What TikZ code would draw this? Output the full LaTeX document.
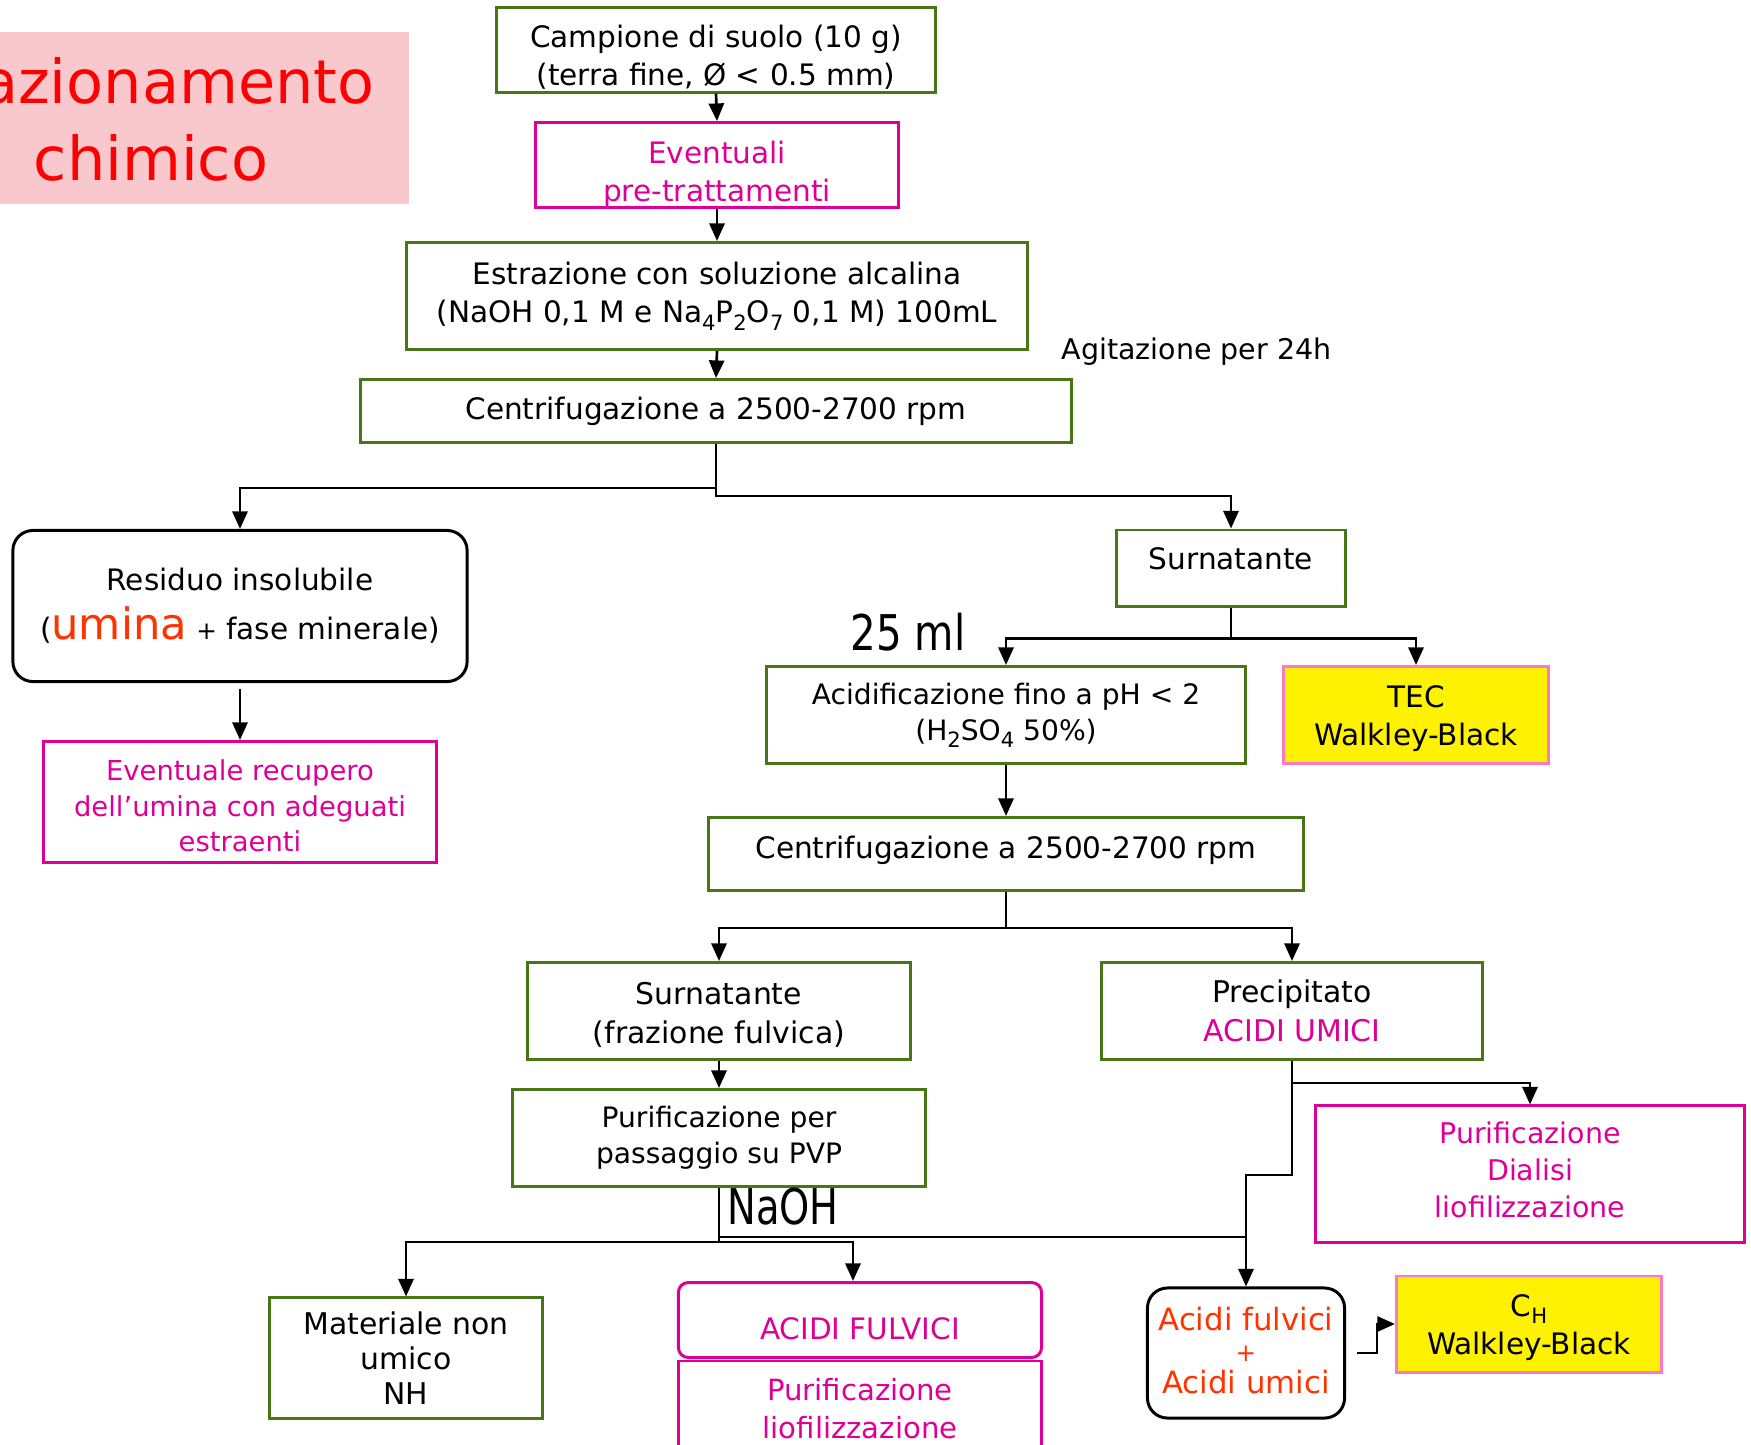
\documentclass[tikz,border=0pt]{standalone}
\usepackage{fontspec}
\usepackage{graphicx}
\setmainfont{DejaVu Sans}
\usetikzlibrary{arrows.meta}
\definecolor{grn}{RGB}{72,118,22}
\definecolor{mag}{RGB}{222,0,150}
\definecolor{pnk}{RGB}{255,120,200}
\definecolor{ored}{RGB}{255,51,0}
\definecolor{ttlbg}{RGB}{248,200,205}
\newcommand\sbs[1]{\raisebox{-0.45ex}{\fontsize{6}{6}\selectfont #1}}
\newcommand\sh[2]{\raisebox{#1}[\height][\depth]{\begin{tabular}{@{}c@{}}#2\end{tabular}}}
\tikzset{
  base/.style={align=center, inner sep=0pt, font=\fontsize{8.4}{10.9}\selectfont},
  gbox/.style={base, draw=grn, line width=0.85pt},
  mbox/.style={base, draw=mag, text=mag, line width=0.85pt},
  ybox/.style={base, draw=pnk, fill=yellow, line width=0.85pt},
  kbox/.style={base, draw=black, line width=0.85pt, rounded corners=0.2cm},
  arr/.style={-{Triangle[length=5pt,width=4.3pt]}, line width=0.75pt},
  ln/.style={line width=0.75pt},
  big/.style={inner sep=0pt, font=\fontsize{14}{16}\selectfont}
}
\begin{document}
\begin{tikzpicture}[x=0.01cm,y=-0.01cm]
\useasboundingbox (0,0) rectangle (1751,1444);
\clip (0,0) rectangle (1751,1444);
\fill[white] (0,0) rectangle (1751,1444);

% title
\fill[ttlbg] (0,32) rectangle (409,204);
\node (t1) [anchor=base east, text=red, inner sep=0pt, font=\fontsize{17.2}{20}\selectfont] at (375,103) {azionamento};
\node (t2) [anchor=base, text=red, inner sep=0pt, font=\fontsize{17.2}{20}\selectfont] at (151,180) {chimico};

% nodes
\node (camp) [gbox, minimum width=4.39cm, minimum height=0.84cm] at (716,50)
  {\sh{-0.09cm}{Campione di suolo (10 g)\\(terra fine, Ø < 0.5 mm)}};
\node (evt) [mbox, minimum width=3.63cm, minimum height=0.85cm] at (717,165)
  {\sh{-0.1cm}{Eventuali\\pre-trattamenti}};
\node (estr) [gbox, minimum width=6.21cm, minimum height=1.07cm] at (717,296)
  {Estrazione con soluzione alcalina\\(NaOH 0,1 M e Na\sbs{4}P\sbs{2}O\sbs{7} 0,1 M) 100mL};
\node (agit) [base, anchor=west, font=\fontsize{8.1}{10}\selectfont] at (1061,352) {Agitazione per 24h};
\node (cen1) [gbox, minimum width=7.11cm, minimum height=0.63cm] at (716,411)
  {Centrifugazione a 2500-2700 rpm};

\node (res) [kbox, minimum width=4.54cm, minimum height=1.51cm] at (240,606)
  {Residuo insolubile\\[3pt](\textcolor{ored}{\fontsize{12.3}{12}\selectfont umina} {\fontsize{7}{7}\selectfont +} fase minerale)};
\node (rec) [mbox, minimum width=3.93cm, minimum height=1.21cm, font=\fontsize{7.8}{10}\selectfont] at (240,802)
  {\sh{-0.07cm}{Eventuale recupero\\dell’umina con adeguati\\estraenti}};

\node (surn1) [gbox, minimum width=2.28cm, minimum height=0.76cm] at (1231,568)
  {\sh{0.065cm}{Surnatante}};
\node (ml) [big] at (908,632) {\scalebox{0.82}[1]{25 ml}};
\node (acid) [gbox, minimum width=4.79cm, minimum height=0.97cm, font=\fontsize{8}{10.3}\selectfont] at (1006,715)
  {Acidificazione fino a pH < 2\\(H\sbs{2}SO\sbs{4} 50\%)};
\node (tec) [ybox, minimum width=2.65cm, minimum height=0.97cm] at (1416,715)
  {\sh{-0.04cm}{TEC\\Walkley-Black}};
\node (cen2) [gbox, minimum width=5.95cm, minimum height=0.73cm] at (1006,854)
  {\sh{0.03cm}{Centrifugazione a 2500-2700 rpm}};

\node (surn2) [gbox, minimum width=3.82cm, minimum height=0.97cm, font=\fontsize{8.5}{11}\selectfont] at (719,1011)
  {\sh{-0.05cm}{Surnatante\\(frazione fulvica)}};
\node (prec) [gbox, minimum width=3.81cm, minimum height=0.97cm, font=\fontsize{8.5}{11}\selectfont] at (1292,1011)
  {Precipitato\\\textcolor{mag}{ACIDI UMICI}};
\node (pvp) [gbox, minimum width=4.13cm, minimum height=0.97cm, font=\fontsize{8}{10.3}\selectfont] at (719,1138)
  {Purificazione per\\passaggio su PVP};
\node (dial) [mbox, minimum width=4.29cm, minimum height=1.36cm, font=\fontsize{8.1}{10.6}\selectfont] at (1530,1174)
  {\sh{0.01cm}{Purificazione\\Dialisi\\liofilizzazione}};
\node (naoh) [big] at (783,1207) {\scalebox{0.78}[1]{NaOH}};

\node (mat) [gbox, minimum width=2.73cm, minimum height=1.20cm, font=\fontsize{8.5}{10}\selectfont] at (406,1358)
  {Materiale non\\umico\\NH};
\node (afulv) [mbox, rounded corners=0.1cm, minimum width=3.63cm, minimum height=0.75cm] at (860,1320)
  {\sh{-0.115cm}{ACIDI FULVICI}};
\node (purif) [mbox, minimum width=3.63cm, minimum height=0.96cm, font=\fontsize{8.3}{10.8}\selectfont] at (860,1409)
  {Purificazione\\liofilizzazione};
\node (afu) [kbox, text=ored, minimum width=1.97cm, minimum height=1.30cm, font=\fontsize{8.75}{8.8}\selectfont] at (1246,1353)
  {\sh{-0.02cm}{Acidi fulvici\\{\fontsize{7}{7}\selectfont +}\\Acidi umici}};
\node (ch) [ybox, minimum width=2.65cm, minimum height=0.96cm] at (1529,1324)
  {\sh{-0.035cm}{C\sbs{H}\\Walkley-Black}};

% connectors
\draw[arr] (camp.south) -- (evt.north);
\draw[arr] (evt.south) -- (estr.north);
\draw[arr] (estr.south) -- (cen1.north);
\draw[arr] (cen1.south) -- ++(0,44) -| (res.north);
\draw[arr] (cen1.south) -- ++(0,52) -| (surn1.north);
\draw[arr] ([yshift=-0.06cm]res.south) -- (rec.north);
\draw[arr] (surn1.south) -- ++(0,31) -| (acid.north);
\draw[arr] (surn1.south) -- ++(0,31) -| (tec.north);
\draw[arr] (acid.south) -- (cen2.north);
\draw[arr] (cen2.south) -- ++(0,36) -| (surn2.north);
\draw[arr] (cen2.south) -- ++(0,36) -| (prec.north);
\draw[arr] (surn2.south) -- (pvp.north);
\draw[arr] (prec.south) -- ++(0,22) -| (dial.north);
\draw[arr] (prec.south) -- ++(0,114) -| (afu.north);
\coordinate (nb) at (719,1242);
\coordinate (naj) at (719,1237);
\draw[ln] (pvp.south) -- (nb);
\draw[ln] (naj) -- (naj -| afu.north);
\draw[arr] (nb) -| (mat.north);
\draw[arr] (nb) -| ([xshift=-0.07cm]afulv.north);
\draw[arr] ([xshift=0.11cm]afu.east) -- ++(20,0) |- (ch.west);
\end{tikzpicture}
\end{document}
